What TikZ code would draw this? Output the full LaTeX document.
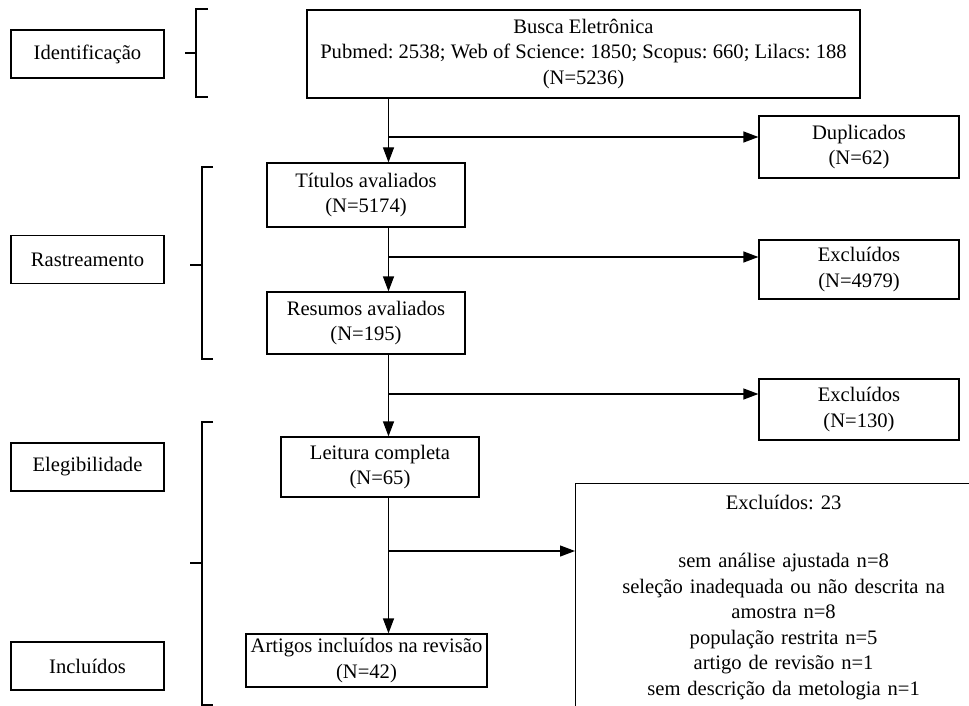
\documentclass[tikz,border=0pt]{standalone}
\usepackage{fontspec}
\setmainfont{Liberation Serif}
\usetikzlibrary{arrows.meta}
\begin{document}
\begin{tikzpicture}[x=0.5pt,y=-0.5pt,
    every node/.style={font=\fontsize{10.3}{12.8}\selectfont\frenchspacing},
    box/.style={draw, line width=0.6pt, align=center, inner sep=0pt},
    stage/.style={box, minimum width=76.5pt, minimum height=24pt},
    flow/.style={box, minimum width=99pt},
    side/.style={box, minimum width=100pt},
    arr/.style={line width=0.6pt, -{Triangle[length=7.5pt,width=5.5pt]}},
    brk/.style={line width=0.6pt}]
  \useasboundingbox (0,0) rectangle (969,706);
  \clip (0,0) rectangle (969,706);

  \node[stage] (ident) at (87.5,54) {Identificação};
  \node[stage] (rast) at (87.5,259.5) {Rastreamento};
  \node[stage] (eleg) at (87.5,467) {Elegibilidade};
  \node[stage] (incl) at (87.5,666) {Incluídos};

  \draw[brk] (208,9) -- (196,9) -- (196,97) -- (208,97);
  \draw[brk] (185,53) -- (196,53);
  \draw[brk] (213,167) -- (202,167) -- (202,359) -- (213,359);
  \draw[brk] (190,265) -- (202,265);
  \draw[brk] (213,422) -- (202,422) -- (202,705) -- (213,705);
  \draw[brk] (190,563) -- (202,563);

  \node[box, minimum width=276.5pt, minimum height=44pt] (busca) at (583.5,54)
    {Busca Eletrônica\\Pubmed: 2538; Web of Science: 1850; Scopus: 660; Lilacs: 188\\(N=5236)};
  \node[flow, minimum height=32pt] (tit) at (366,195) {Títulos avaliados\\(N=5174)};
  \node[flow, minimum height=31pt] (res) at (366,323) {Resumos avaliados\\(N=195)};
  \node[flow, minimum height=30pt] (leit) at (380,467) {Leitura completa\\(N=65)};
  \node[box, minimum width=120.5pt, minimum height=26.5pt] (art) at (366.5,660.5)
    {Artigos incluídos na revisão\\(N=42)};

  \node[side, minimum height=31pt] (dup) at (859,147) {Duplicados\\(N=62)};
  \node[side, minimum height=29.5pt] (exc1) at (859,269.5) {Excluídos\\(N=4979)};
  \node[side, minimum height=30.5pt] (exc2) at (859,409.5) {Excluídos\\(N=130)};
  \node[box, anchor=north west, minimum width=208pt, text width=196pt,
    inner xsep=6pt, inner ysep=6pt, text depth=110pt] (exc3) at (575,483)
    {Excluídos: 23\\[16pt]
     sem análise ajustada n=8\\
     seleção inadequada ou não descrita na\\
     amostra n=8\\
     população restrita n=5\\
     artigo de revisão n=1\\
     sem descrição da metologia n=1};

  \coordinate (spine) at (388.5,0);
  \draw[arr] (busca.south -| spine) -- (tit.north -| spine);
  \draw[arr] (tit.south -| spine) -- (res.north -| spine);
  \draw[arr] (res.south -| spine) -- (leit.north -| spine);
  \draw[arr] (leit.south -| spine) -- (art.north -| spine);

  \coordinate (j1) at (388.5,137);
  \coordinate (j2) at (388.5,257);
  \coordinate (j3) at (388.5,394);
  \coordinate (j4) at (388.5,551);
  \draw[arr] (j1) -- (j1 -| dup.west);
  \draw[arr] (j2) -- (j2 -| exc1.west);
  \draw[arr] (j3) -- (j3 -| exc2.west);
  \draw[arr] (j4) -- (j4 -| exc3.west);
\end{tikzpicture}
\end{document}
